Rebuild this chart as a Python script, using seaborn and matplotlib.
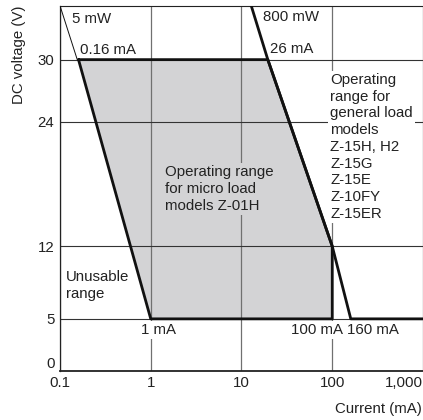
import numpy as np
import pandas as pd
import seaborn as sns
import matplotlib.pyplot as plt
from matplotlib.ticker import NullLocator, FixedLocator

sns.set_style('white')
plt.rcParams['font.family'] = ['Liberation Sans', 'DejaVu Sans']
plt.rcParams['font.size'] = 10.8

# axis ticks
x_ticks = [0.1, 1, 10, 100, 1000]
x_labels = ['0.1', '1', '10', '100', '1,000']
y_ticks = [0, 5, 12, 24, 30]

# micro load operating range (Z-01H), closed outline
micro_i = [0.16, 19.5, 100, 100, 1, 0.16]
micro_v = [30, 30, 12, 5, 5, 30]

# general load boundary (800 mW line then 5 V floor)
general_i = [12.8, 19.5, 100, 160, 1000]
general_v = [35.2, 30, 12, 5, 5]

# 5 mW line
mw5_i = [0.1, 0.155]
mw5_v = [35.2, 30]

fig, ax = plt.subplots(figsize=(4.23, 4.20), dpi=100)
fig.subplots_adjust(left=0.1418, right=1.0, bottom=0.1174, top=0.9864)
ax.set_xscale('log')

ax.fill(micro_i, micro_v, color='#d3d3d5', lw=0, zorder=0.2)

micro = pd.DataFrame({'i': micro_i, 'v': micro_v})
general = pd.DataFrame({'i': general_i, 'v': general_v})
mw5 = pd.DataFrame({'i': mw5_i, 'v': mw5_v})
sns.lineplot(data=micro, x='i', y='v', sort=False, estimator=None, color='#111111', lw=2.0, ax=ax, zorder=4)
sns.lineplot(data=general, x='i', y='v', sort=False, estimator=None, color='#111111', lw=2.0, ax=ax, zorder=4)
sns.lineplot(data=mw5, x='i', y='v', sort=False, estimator=None, color='#111111', lw=0.7, ax=ax, zorder=4)

ax.set_xlim(0.1, 1000)
ax.set_ylim(0, 35.2)
ax.xaxis.set_major_locator(FixedLocator(x_ticks))
ax.xaxis.set_minor_locator(NullLocator())
ax.set_xticklabels(x_labels)
ax.set_yticks(y_ticks)
ax.get_xticklabels()[-1].set_horizontalalignment('right')
ax.get_yticklabels()[0].set_verticalalignment('bottom')
ax.tick_params(length=0, pad=4, labelsize=10.8, colors='#222222')

ax.set_axisbelow(True)
ax.grid(axis='x', color='#707070', lw=0.9)
ax.grid(axis='y', color='#333333', lw=0.8)

for s in ['left', 'bottom', 'top']:
    ax.spines[s].set_color('#222222')
ax.spines['left'].set_linewidth(0.9)
ax.spines['bottom'].set_linewidth(1.3)
ax.spines['top'].set_linewidth(0.8)
ax.spines['right'].set_visible(False)

ax.set_xlabel('Current (mA)', loc='right', color='#222222')
ax.xaxis.set_label_coords(0.997, -0.085)
ax.set_ylabel('DC voltage (V)', loc='top', color='#222222')
ax.yaxis.set_label_coords(-0.094, 1.0)

tc = '#222222'
white = dict(boxstyle='square,pad=0.15', fc='white', ec='none')
grey = dict(boxstyle='square,pad=0.15', fc='#d3d3d5', ec='none')

ax.text(0.1355, 34.55, '5 mW', ha='left', va='top', color=tc)
ax.text(0.166, 31.6, '0.16 mA', ha='left', va='top', color=tc)
ax.text(17.1, 34.75, '800 mW', ha='left', va='top', color=tc)
ax.text(20.7, 31.7, '26 mA', ha='left', va='top', color=tc)
ax.text(95.1, 28.7, 'Operating\nrange for\ngeneral load\nmodels\nZ-15H, H2\nZ-15G\nZ-15E\nZ-10FY\nZ-15ER',
        ha='left', va='top', color=tc, linespacing=1.245, bbox=white)
ax.text(1.425, 19.8, 'Operating range\nfor micro load\nmodels Z-01H',
        ha='left', va='top', color=tc, linespacing=1.245, bbox=grey)
ax.text(0.1163, 9.7, 'Unusable\nrange', ha='left', va='top', color=tc, linespacing=1.245)
ax.text(0.79, 4.6, '1 mA', ha='left', va='top', color=tc, bbox=white)
ax.text(35.2, 4.62, '100 mA', ha='left', va='top', color=tc, bbox=white)
ax.text(146, 4.62, '160 mA', ha='left', va='top', color=tc, bbox=white)

plt.savefig('out.png', dpi=100)
